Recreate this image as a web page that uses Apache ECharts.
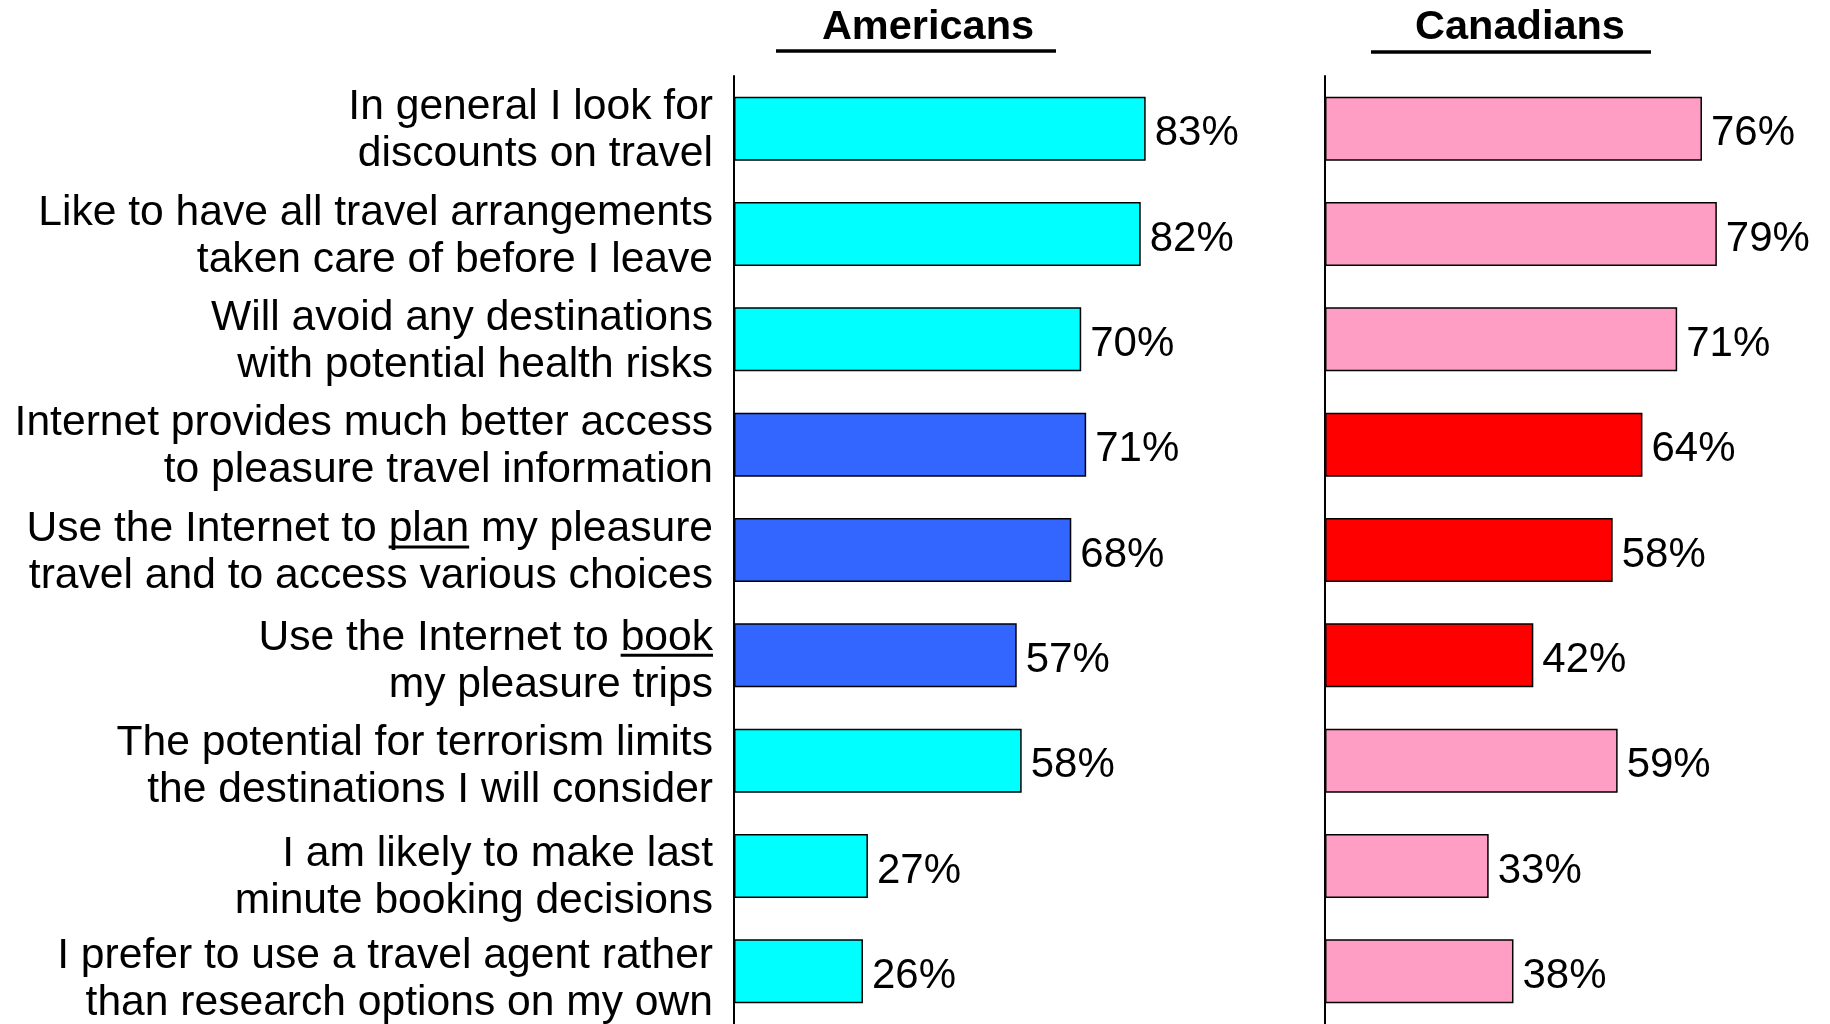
<!DOCTYPE html>
<html>
<head>
<meta charset="utf-8">
<script src="https://cdn.jsdelivr.net/npm/echarts@6/dist/echarts.min.js"></script>
<style>
  html, body { margin: 0; padding: 0; background: #fff; }
  #main { width: 1830px; height: 1024px; }
</style>
</head>
<body>
<div id="main"></div>
<script>
// row labels, top to bottom
var categories = [
  'In general I look for\ndiscounts on travel',
  'Like to have all travel arrangements\ntaken care of before I leave',
  'Will avoid any destinations\nwith potential health risks',
  'Internet provides much better access\nto pleasure travel information',
  'Use the Internet to plan my pleasure\ntravel and to access various choices',
  'Use the Internet to book\nmy pleasure trips',
  'The potential for terrorism limits\nthe destinations I will consider',
  'I am likely to make last\nminute booking decisions',
  'I prefer to use a travel agent rather\nthan research options on my own'
];
var americans = [83, 82, 70, 71, 68, 57, 58, 27, 26];
var canadians = [76, 79, 71, 64, 58, 42, 59, 33, 38];
var panelTitles = ['Americans', 'Canadians'];
// internet rows are drawn in the darker colour
var internetRows = [3, 4, 5];
// words underlined in the labels (first line)
var underlined = [{ row: 4, word: 'plan' }, { row: 5, word: 'book' }];

var FONT = '"Liberation Sans", Arial, Helvetica, sans-serif';
var gridTop = 76, gridH = 950;
var usLeft = 734, caLeft = 1325, plotW = 496;
var labelMargin = 21;
var labelSize = 42.6;
// vertical nudge of each label (the text boxes in the original sit a bit low)
var labelShift = [2.5, 3, 2.5, 2.5, 3, 6, 6.5, 12, 8];

function barSeries(idx, values, light, dark) {
  return {
    type: 'bar',
    xAxisIndex: idx,
    yAxisIndex: idx,
    data: values,
    barWidth: 64,
    itemStyle: {
      color: function (p) {
        return internetRows.indexOf(p.dataIndex) >= 0 ? dark : light;
      },
      borderColor: '#000',
      borderWidth: 1.5
    },
    label: {
      show: true,
      position: 'right',
      distance: 9,
      offset: [0, 5],
      formatter: '{c}%',
      color: '#000',
      fontSize: 42,
      fontFamily: FONT
    },
    silent: true
  };
}

function catAxis(idx) {
  return {
    type: 'category',
    gridIndex: idx,
    data: categories,
    inverse: true,
    axisLine: { show: true, lineStyle: { color: '#000', width: 2 } },
    axisTick: { show: false },
    axisLabel: { show: false }
  };
}

// row labels drawn as labels of an invisible scatter at x = 0
var labelSeries = {
  type: 'scatter',
  xAxisIndex: 0,
  yAxisIndex: 0,
  symbolSize: 0,
  silent: true,
  z: 5,
  itemStyle: { opacity: 1 },
  data: categories.map(function (c, i) {
    return { value: [0, i], label: { offset: [0, labelShift[i]] } };
  }),
  label: {
    show: true,
    position: 'left',
    distance: labelMargin,
    align: 'right',
    formatter: function (p) { return categories[p.dataIndex]; },
    color: '#000',
    opacity: 1,
    fontSize: labelSize,
    lineHeight: 47,
    fontFamily: FONT
  }
};

var chart = echarts.init(document.getElementById('main'));
var option = {
  backgroundColor: '#fff',
  animation: false,
  title: [
    {
      text: panelTitles[0], left: 928, top: 7, padding: 0, textAlign: 'center',
      textStyle: { fontSize: 41.5, fontWeight: 'bold', color: '#000', fontFamily: FONT }
    },
    {
      text: panelTitles[1], left: 1520, top: 7, padding: 0, textAlign: 'center',
      textStyle: { fontSize: 41.5, fontWeight: 'bold', color: '#000', fontFamily: FONT }
    }
  ],
  grid: [
    { left: usLeft, top: gridTop, width: plotW, height: gridH },
    { left: caLeft, top: gridTop, width: plotW, height: gridH }
  ],
  xAxis: [
    { type: 'value', gridIndex: 0, min: 0, max: 100, show: false },
    { type: 'value', gridIndex: 1, min: 0, max: 100, show: false }
  ],
  yAxis: [catAxis(0), catAxis(1)],
  series: [
    barSeries(0, americans, '#00FFFF', '#3366FF'),
    barSeries(1, canadians, '#FF9EC5', '#FF0000'),
    labelSeries
  ]
};
chart.setOption(option);

// heading underlines + underlined words in labels
var ctx = document.createElement('canvas').getContext('2d');
ctx.font = labelSize + 'px ' + FONT;
var textRight = usLeft - labelMargin;
var lines = [
  { type: 'line', shape: { x1: 776, y1: 51, x2: 1056, y2: 51 }, style: { stroke: '#000', lineWidth: 3.5 } },
  { type: 'line', shape: { x1: 1371, y1: 52, x2: 1651, y2: 52 }, style: { stroke: '#000', lineWidth: 3.5 } }
];
underlined.forEach(function (u) {
  var first = categories[u.row].split('\n')[0];
  var pos = first.indexOf(u.word);
  var after = first.slice(pos + u.word.length);
  var x2 = textRight - ctx.measureText(after).width;
  var x1 = x2 - ctx.measureText(u.word).width;
  var cy = chart.convertToPixel({ yAxisIndex: 0 }, u.row);
  var y = cy - 23.5 + 17.5 + labelShift[u.row];
  lines.push({ type: 'line', shape: { x1: x1, y1: y, x2: x2, y2: y }, style: { stroke: '#000', lineWidth: 3 } });
});
chart.setOption({ graphic: lines });
</script>
</body>
</html>
